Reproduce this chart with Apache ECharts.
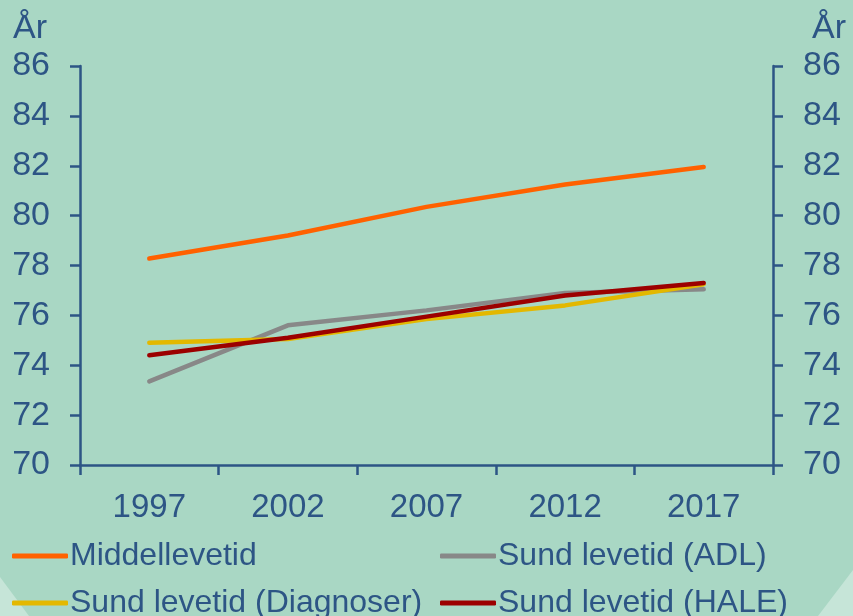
<!DOCTYPE html>
<html>
<head>
<meta charset="utf-8">
<script src="https://cdn.jsdelivr.net/npm/echarts@6/dist/echarts.min.js"></script>
<style>
html, body { margin: 0; padding: 0; background: #a9d7c4; }
#chart { width: 853px; height: 616px; }
</style>
</head>
<body>
<div id="chart"></div>
<script>
var years = ['1997', '2002', '2007', '2012', '2017'];
var middellevetid = [78.28, 79.2, 80.35, 81.25, 81.95];
var sundADL = [73.35, 75.6, 76.2, 76.9, 77.05];
var sundDiagnoser = [74.9, 75.05, 75.85, 76.4, 77.25];
var sundHALE = [74.4, 75.1, 75.95, 76.8, 77.3];
var yTicks = [70, 72, 74, 76, 78, 80, 82, 84, 86];

var ink = '#2d5585';
var font = 'Liberation Sans, Arial, sans-serif';

function yAxis(pos) {
    return {
        type: 'value',
        position: pos,
        min: yTicks[0],
        max: yTicks[yTicks.length - 1],
        interval: 2,
        axisLine: { show: true, lineStyle: { color: ink, width: 2.5 } },
        axisTick: { show: true, length: 10, lineStyle: { color: ink, width: 2.5 } },
        splitLine: { show: false },
        axisLabel: { color: ink, fontSize: 34, fontFamily: font, margin: 30 }
    };
}

function line(name, data, color) {
    return {
        name: name,
        type: 'line',
        data: data,
        symbol: 'none',
        lineStyle: { color: color, width: 4.5, cap: 'round' },
        itemStyle: { color: color }
    };
}

// one legend per entry, laid out as two rows x two columns
function legend(name, left, top) {
    return {
        left: left, top: top,
        itemWidth: 56, itemHeight: 5, icon: 'roundRect',
        textStyle: { color: ink, fontSize: 32, fontFamily: font, padding: [0, 0, 0, -3] },
        data: [name]
    };
}

var chart = echarts.init(document.getElementById('chart'));
chart.setOption({
    backgroundColor: '#a9d7c4',
    animation: false,
    grid: { left: 80, right: 80, top: 66, bottom: 151 },
    graphic: [
        { type: 'polygon', shape: { points: [[0, 577], [29, 616], [0, 616]] }, style: { fill: '#c6e5d8' }, z: -1 },
        { type: 'polygon', shape: { points: [[853, 570], [853, 616], [818, 616]] }, style: { fill: '#c6e5d8' }, z: -1 },
        { type: 'text', left: 13, top: 12, style: { text: 'År', fill: ink, fontSize: 34, fontFamily: font } },
        { type: 'text', left: 812, top: 12, style: { text: 'År', fill: ink, fontSize: 34, fontFamily: font } }
    ],
    legend: [
        legend('Middellevetid', 7, 535),
        legend('Sund levetid (Diagnoser)', 7, 582),
        legend('Sund levetid (ADL)', 435, 535),
        legend('Sund levetid (HALE)', 435, 582)
    ],
    xAxis: {
        type: 'category',
        data: years,
        boundaryGap: true,
        axisLine: { lineStyle: { color: ink, width: 2.5 } },
        axisTick: { show: true, length: 10, alignWithLabel: false, lineStyle: { color: ink, width: 2.5 } },
        axisLabel: { color: ink, fontSize: 33, fontFamily: font, margin: 26 }
    },
    yAxis: [yAxis('left'), yAxis('right')],
    series: [
        line('Middellevetid', middellevetid, '#ff6100'),
        line('Sund levetid (ADL)', sundADL, '#888888'),
        line('Sund levetid (Diagnoser)', sundDiagnoser, '#e3b800'),
        line('Sund levetid (HALE)', sundHALE, '#9c0000')
    ]
});
</script>
</body>
</html>
